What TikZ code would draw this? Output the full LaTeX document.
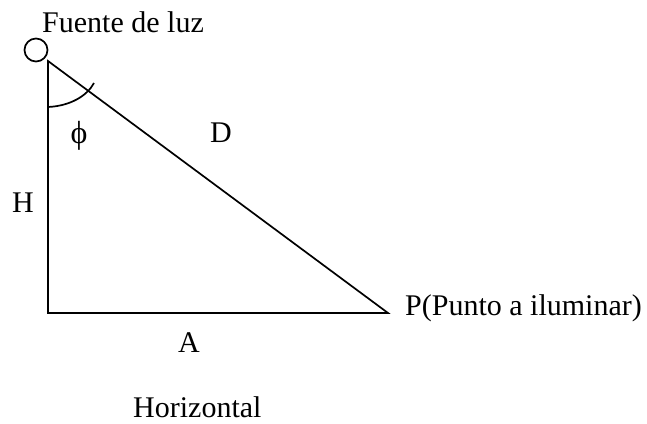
\documentclass[tikz,border=0pt]{standalone}
\usepackage{fontspec}
\setmainfont{Liberation Serif}
\begin{document}
\begin{tikzpicture}[x=1pt,y=-1pt,
  lbl/.style={inner sep=0pt,anchor=base west,font=\fontsize{30}{36}\selectfont},
  edge/.style={line width=1.7pt,black}]
\useasboundingbox (0,0) rectangle (647,423);
% vertices
\coordinate (T) at (48,61);
\coordinate (B) at (48,313);
\coordinate (P) at (388,313);
\coordinate (arcS) at (48,107);
\coordinate (arcE) at (94,83);
% light source
\node[draw,circle,line width=1.7pt,minimum size=23pt,inner sep=0pt] (src) at (36,50) {};
% triangle
\draw[edge] (T) -- (B) -- (P) -- cycle;
% angle arc
\draw[edge] (arcS) .. controls (70,106) and (87,96) .. (arcE);
% labels
\node[lbl] (fuente) at (42,32) {Fuente de luz};
\node[lbl] (pt) at (405,315) {P(Punto a iluminar)};
\node[lbl] (d) at (210,142) {D};
\node[lbl] (h) at (12,212) {H};
\node[lbl] (a) at (178,352) {A};
\node[inner sep=0pt,font=\fontsize{32}{36}\selectfont] (phi) at (79,136) {ϕ};
\node[lbl] (horiz) at (133,417) {Horizontal};
\end{tikzpicture}
\end{document}
